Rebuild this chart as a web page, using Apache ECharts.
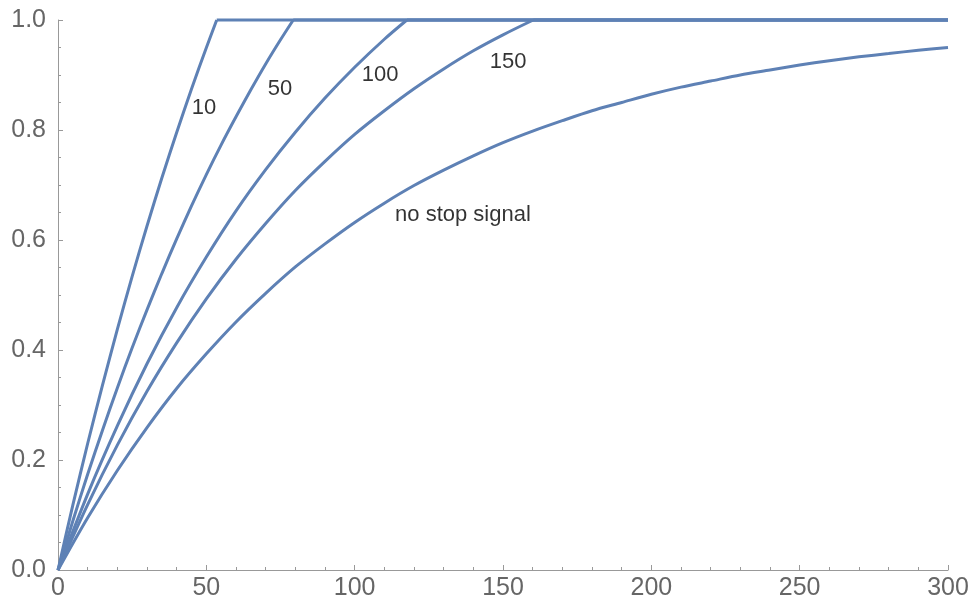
<!DOCTYPE html>
<html>
<head>
<meta charset="utf-8">
<script src="https://cdn.jsdelivr.net/npm/echarts@6/dist/echarts.min.js"></script>
<style>html,body{margin:0;padding:0;background:#fff}#c{width:974px;height:609px}</style>
</head>
<body>
<div id="c"></div>
<script>
// ---- data ----
const ssd10T = [0,5,10,15,20,25,30,35,40,45,50,53.5,300];
const ssd10V = [0,0.118,0.230,0.336,0.4375,0.534,0.6255,0.7126,0.7956,0.8745,0.9496,1,1];
const ssd50T = [0,5,10,15,20,25,30,35,40,45,50,55,60,65,70,75,79.3,300];
const ssd50V = [0,0.089,0.174,0.254,0.331,0.404,0.473,0.539,0.602,0.662,0.719,0.773,0.824,0.873,0.920,0.964,1,1];
const ssd100T = [0,10,20,30,40,50,60,70,80,90,100,110,117.6,300];
const ssd100V = [0,0.138,0.262,0.375,0.477,0.569,0.653,0.728,0.796,0.858,0.914,0.965,1,1];
const ssd150T = [0,10,20,30,40,50,60,70,80,90,100,110,120,130,140,150,160.2,300];
const ssd150V = [0,0.119,0.227,0.325,0.413,0.493,0.565,0.630,0.690,0.743,0.792,0.835,0.875,0.911,0.944,0.973,1,1];
const noStopT = [0,10,20,30,40,50,60,70,80,90,100,110,120,130,140,150,160,170,180,190,200,210,220,230,240,250,260,270,280,290,300];
const noStopV = [0,0.095,0.181,0.259,0.330,0.393,0.451,0.503,0.551,0.593,0.632,0.667,0.699,0.727,0.753,0.777,0.798,0.817,0.835,0.850,0.865,0.878,0.889,0.900,0.909,0.918,0.926,0.933,0.939,0.945,0.950];
const labelTexts = ['10','50','100','150','no stop signal'];
const labelX = [49.2,74.8,108.6,151.7,136.5];
const labelY = [0.84,0.875,0.9,0.924,0.645];

const LINE = '#5E81B5';
const zip = (t, v) => t.map((x, i) => [x, v[i]]);
const lineSeries = (data) => ({
  type: 'line', data: data, showSymbol: false, symbol: 'none', smooth: 0.3,
  lineStyle: {color: LINE, width: 3}, clip: false, silent: true
});

const series = [];
// stop-signal curves: rising part smoothed, saturated part straight (sharp kink)
[[ssd10T, ssd10V],[ssd50T, ssd50V],[ssd100T, ssd100V],[ssd150T, ssd150V]].forEach(c => {
  const pts = zip(c[0], c[1]);
  series.push(lineSeries(pts.slice(0, pts.length - 1)));
  const flat = lineSeries(pts.slice(pts.length - 2));
  flat.smooth = false;
  series.push(flat);
});
series.push(lineSeries(zip(noStopT, noStopV)));
series.push({
  type: 'scatter', symbolSize: 0, silent: true,
  data: labelTexts.map((s, i) => [labelX[i], labelY[i], s]),
  label: {show: true, position: 'inside', formatter: p => p.value[2],
    color: '#000', fontSize: 22, fontFamily: 'Liberation Sans, Arial, sans-serif'}
});

const axisLine = {show: true, lineStyle: {color: '#999', width: 1}};
const axisTick = {show: true, inside: true, length: 5, lineStyle: {color: '#999'}};
const axisLabel = {color: '#666', fontSize: 25, fontFamily: 'Liberation Sans, Arial, sans-serif'};

const chart = echarts.init(document.getElementById('c'), null, {renderer: 'canvas'});
chart.setOption({
  animation: false,
  grid: {left: 58, right: 26, top: 20, bottom: 39, containLabel: false},
  xAxis: {type: 'value', min: 0, max: 300, interval: 50,
    axisLine: axisLine, axisTick: axisTick, splitLine: {show: false},
    minorTick: {show: true, splitNumber: 5, length: 3, lineStyle: {color: '#999'}},
    axisLabel: Object.assign({}, axisLabel, {margin: 6})},
  yAxis: {type: 'value', min: 0, max: 1, interval: 0.2,
    axisLine: axisLine, axisTick: axisTick, splitLine: {show: false},
    minorTick: {show: true, splitNumber: 4, length: 3, lineStyle: {color: '#999'}},
    axisLabel: Object.assign({}, axisLabel, {margin: 12, formatter: v => v.toFixed(1)})},
  series: series
});
</script>
</body>
</html>
